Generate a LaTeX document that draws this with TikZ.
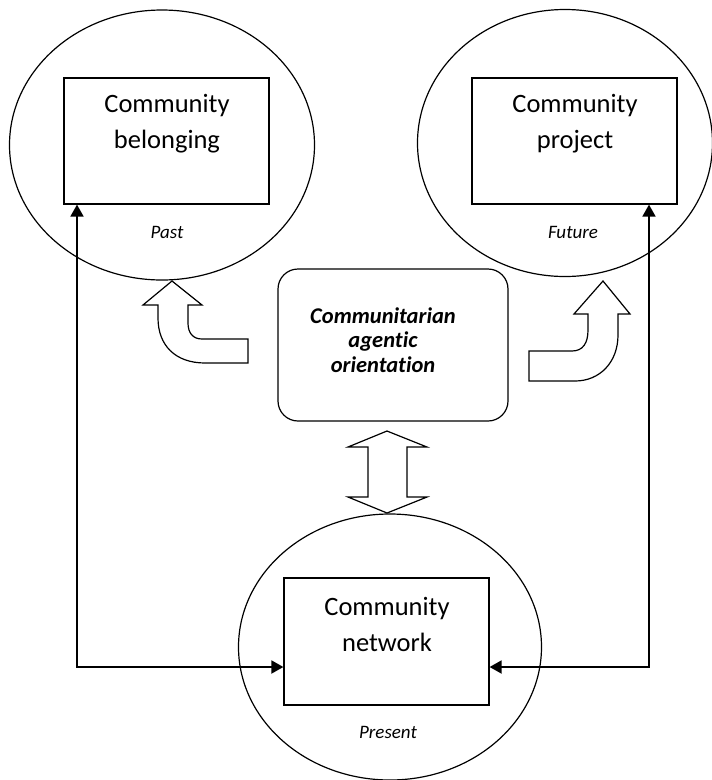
\documentclass[tikz,border=0pt]{standalone}
\usepackage{fontspec}
\setmainfont{Carlito}[Ligatures={NoCommon}]
\usetikzlibrary{shapes.geometric,arrows.meta}
\begin{document}
\begin{tikzpicture}[x=1pt,y=-1pt,
 oval/.style={draw,ellipse,line width=1.2pt,inner sep=0pt},
 box/.style={draw,rectangle,line width=1.2pt,inner sep=0pt},
 lbl/.style={align=center,font=\fontsize{26.5}{36}\selectfont},
 era/.style={font=\fontsize{19}{22}\selectfont\itshape},
 link/.style={line width=1.8pt,{Triangle[length=12pt,width=13pt]}-{Triangle[length=12pt,width=13pt]}},
 blk/.style={draw,fill=white,line width=1.2pt,line join=miter}]
\useasboundingbox (0,0) rectangle (712,780);
% ellipses
\node[oval,minimum width=305pt,minimum height=270pt] (pastE) at (162,145) {};
\node[oval,minimum width=295pt,minimum height=267pt] (futE) at (565,143) {};
\node[oval,minimum width=303pt,minimum height=266pt] (presE) at (390,647) {};
% boxes
\node[box,minimum width=205pt,minimum height=126pt] (bel) at (166.5,141) {};
\node[box,minimum width=205pt,minimum height=126pt] (proj) at (574.5,141) {};
\node[box,minimum width=205pt,minimum height=127pt] (net) at (386.5,641.5) {};
\node[draw,rounded corners=20pt,line width=1.2pt,minimum width=230pt,minimum height=152pt] (cen) at (393,345) {};
% texts
\node[lbl] (belT) at (167,124) {Community\\belonging};
\node[lbl] (projT) at (575,124) {Community\\project};
\node[lbl] (netT) at (387,624) {Community\\network};
\node[era] (past) at (167,232) {Past};
\node[era] (fut) at (573,232) {Future};
\node[era] (pres) at (388,732) {Present};
\node[align=center,font=\fontsize{22.5}{24.5}\selectfont\bfseries\itshape] (cenT) at (383,340) {Communitarian\\agentic\\orientation};
% connectors
\coordinate (cL) at (77,667);
\coordinate (cR) at (649,667);
\draw[link] (bel.south -| cL) -- (cL) -- (net.west |- cL);
\draw[link] (proj.south -| cR) -- (cR) -- (net.east |- cR);
% block arrows
\draw[blk] (158,305) -- (158,318) .. controls (158,345) and (175,363) .. (205,363) -- (248,363) -- (248,339) -- (202,339) .. controls (193,339) and (188,333) .. (188,323) -- (188,305) -- (202,305) -- (172,281) -- (143,305) -- cycle;
\draw[blk] (529,351) -- (572,351) .. controls (583,351) and (588,343) .. (588,330) -- (588,314) -- (574,314) -- (603,281) -- (630,314) -- (618,314) -- (618,335) .. controls (618,362) and (600,381) .. (575,381) -- (529,381) -- cycle;
\draw[blk] (387,431) -- (427,447) -- (407,447) -- (407,497) -- (427,497) -- (387,513) -- (348,497) -- (368,497) -- (368,447) -- (348,447) -- cycle;
\end{tikzpicture}
\end{document}
